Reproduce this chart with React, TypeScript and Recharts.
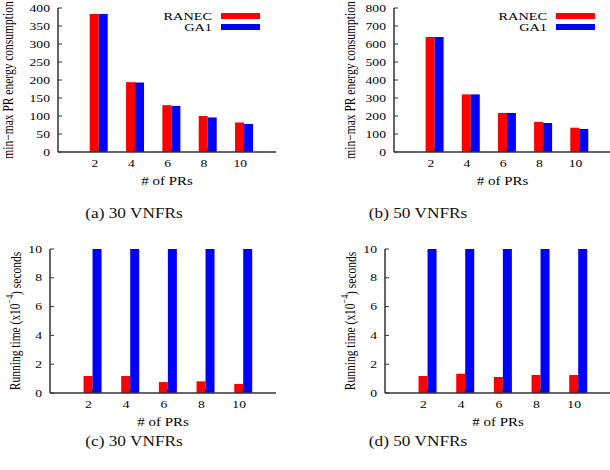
import React from 'react';
import { BarChart, Bar, XAxis, YAxis, Label } from 'recharts';

const prCounts = [2, 4, 6, 8, 10];
const xTicks = [2, 4, 6, 8, 10];
const xDomain = [-0.25, 11.75];
const seriesNames = ['RANEC', 'GA1'];
const seriesColors = ['#ff0000', '#0000ff'];

// (a) / (b) min-max PR energy consumption
const energyRanec30 = [383, 194, 130, 100, 82];
const energyGa130 = [383, 193, 128, 96, 78];
const energyRanec50 = [639, 320, 217, 167, 135];
const energyGa150 = [639, 320, 217, 161, 128];
const energyTicks30 = [0, 50, 100, 150, 200, 250, 300, 350, 400];
const energyTicks50 = [0, 100, 200, 300, 400, 500, 600, 700, 800];

// (c) / (d) running time, x10^-4 s
// GA1 bars run off the top of the 0-10 axis, so only "above 10" is known
const timeRanec30 = [1.18, 1.18, 0.76, 0.81, 0.63];
const timeGa130 = [12, 12, 12, 12, 12];
const timeRanec50 = [1.18, 1.34, 1.11, 1.25, 1.25];
const timeGa150 = [12, 12, 12, 12, 12];
const timeTicks = [0, 2, 4, 6, 8, 10];

const captions = ['(a) 30 VNFRs', '(b) 50 VNFRs', '(c) 30 VNFRs', '(d) 50 VNFRs'];

const FONT = '"Liberation Serif", "DejaVu Serif", serif';
const AXIS = '#333';
const STRETCH = 1.3;

const XTick = (props: any) => {
  const { x, y, payload } = props;
  return (
    <text
      x={-3}
      y={0}
      dy="0.71em"
      textAnchor="middle"
      fontSize={10.5}
      fontFamily={FONT}
      fill="#000"
      transform={`translate(${x},${y}) scale(${STRETCH},1)`}
    >
      {payload.value}
    </text>
  );
};

const YTick = (props: any) => {
  const { x, y, payload } = props;
  return (
    <text
      x={0}
      y={0}
      dy="0.35em"
      textAnchor="end"
      fontSize={10.5}
      fontFamily={FONT}
      fill="#000"
      transform={`translate(${x},${y}) scale(${STRETCH},1)`}
    >
      {payload.value}
    </text>
  );
};

function LegendBox({ textRight, swatchLeft }: { textRight: number; swatchLeft: number }) {
  return (
    <>
      {seriesNames.map((name, i) => {
        const cy = 16 + i * 11;
        return (
          <React.Fragment key={name}>
            <div
              style={{
                position: 'absolute',
                left: textRight - 80,
                width: 80,
                top: cy - 6,
                height: 12,
                lineHeight: '12px',
                fontSize: 11,
                fontFamily: FONT,
                textAlign: 'right',
                transform: `scaleX(${STRETCH})`,
                transformOrigin: 'right center',
              }}
            >
              {name}
            </div>
            <div
              style={{
                position: 'absolute',
                left: swatchLeft,
                top: cy - 3,
                width: 39,
                height: 6,
                background: seriesColors[i],
              }}
            />
          </React.Fragment>
        );
      })}
    </>
  );
}

interface PanelProps {
  left: number;
  top: number;
  width: number;
  margin: { top: number; right: number; left: number; bottom: number };
  ranec: number[];
  ga1: number[];
  yTicks: number[];
  yLabel: React.ReactNode;
  yLabelX: number;
  legend?: { textRight: number; swatchLeft: number };
}

function Panel({ left, top, width, margin, ranec, ga1, yTicks, yLabel, yLabelX, legend }: PanelProps) {
  const data = prCounts.map((pr, i) => ({ pr, ranec: ranec[i], ga1: ga1[i] }));
  const yMax = yTicks[yTicks.length - 1];
  const line = { stroke: AXIS, strokeWidth: 1.5 };

  return (
    <div style={{ position: 'absolute', left, top, width, height: 200 }}>
      <BarChart width={width} height={200} data={data} margin={margin} barGap={0}>
        <XAxis
          dataKey="pr"
          type="number"
          domain={xDomain}
          ticks={xTicks}
          interval={0}
          height={34}
          axisLine={line}
          tickLine={{ stroke: AXIS }}
          tickSize={-4}
          tickMargin={12}
          tick={<XTick />}
        >
          <Label
            content={(p: any) => {
              const vb = p.viewBox;
              return (
                <text
                  x={0}
                  y={0}
                  textAnchor="middle"
                  fontSize={11.5}
                  fontFamily={FONT}
                  fill="#000"
                  transform={`translate(${vb.x + vb.width / 2},${vb.y + vb.height - 1}) scale(${STRETCH},1)`}
                >
                  # of PRs
                </text>
              );
            }}
          />
        </XAxis>
        <XAxis
          xAxisId="top"
          orientation="top"
          type="number"
          domain={xDomain}
          ticks={xTicks}
          interval={0}
          height={0}
          axisLine={line}
          tickLine={{ stroke: AXIS }}
          tickSize={-4}
          tick={false}
        />
        <YAxis
          domain={[0, yMax]}
          ticks={yTicks}
          interval={0}
          allowDataOverflow
          width={50}
          axisLine={line}
          tickLine={{ stroke: AXIS }}
          tickSize={-4}
          tickMargin={12}
          tick={<YTick />}
        >
          <Label
            content={(p: any) => {
              const vb = p.viewBox;
              return (
                <text
                  x={0}
                  y={0}
                  textAnchor="middle"
                  dominantBaseline="central"
                  fontSize={11.5}
                  fontFamily={FONT}
                  fill="#000"
                  transform={`translate(${yLabelX},${vb.y + vb.height / 2}) scale(${STRETCH},1) rotate(-90)`}
                >
                  {yLabel}
                </text>
              );
            }}
          />
        </YAxis>
        <YAxis
          yAxisId="right"
          orientation="right"
          domain={[0, yMax]}
          ticks={yTicks}
          interval={0}
          width={0}
          axisLine={line}
          tickLine={{ stroke: AXIS }}
          tickSize={-4}
          tick={false}
        />
        <Bar dataKey="ranec" name={seriesNames[0]} fill={seriesColors[0]} barSize={9} isAnimationActive={false} />
        <Bar dataKey="ga1" name={seriesNames[1]} fill={seriesColors[1]} barSize={9} isAnimationActive={false} />
      </BarChart>
      {legend && <LegendBox textRight={legend.textRight} swatchLeft={legend.swatchLeft} />}
    </div>
  );
}

function Caption({ text, cx, cy }: { text: string; cx: number; cy: number }) {
  return (
    <div
      style={{
        position: 'absolute',
        left: cx - 100,
        width: 200,
        top: cy - 10,
        height: 20,
        lineHeight: '20px',
        textAlign: 'center',
        fontSize: 15,
        fontFamily: FONT,
        color: '#111',
        transform: 'scaleX(1.15)',
      }}
    >
      {text}
    </div>
  );
}

const energyLabel = 'min\u2212max PR energy consumption';
const timeLabel = (
  <>
    Running time (x10
    <tspan dy={-4} fontSize={8}>
      {'\u22124'}
    </tspan>
    <tspan dy={4}>) seconds</tspan>
  </>
);

export default function App() {
  return (
    <div style={{ position: 'absolute', left: 0, top: 0, width: 610, height: 470, background: '#fff', overflow: 'hidden' }}>
      <Panel
        left={0}
        top={0}
        width={300}
        margin={{ top: 8, right: 24, left: 8, bottom: 14 }}
        ranec={energyRanec30}
        ga1={energyGa130}
        yTicks={energyTicks30}
        yLabel={energyLabel}
        yLabelX={8}
        legend={{ textRight: 212, swatchLeft: 221 }}
      />
      <Panel
        left={300}
        top={0}
        width={311}
        margin={{ top: 8, right: 0, left: 44, bottom: 14 }}
        ranec={energyRanec50}
        ga1={energyGa150}
        yTicks={energyTicks50}
        yLabel={energyLabel}
        yLabelX={50}
        legend={{ textRight: 247, swatchLeft: 256 }}
      />
      <Panel
        left={0}
        top={240}
        width={300}
        margin={{ top: 9, right: 24, left: 0, bottom: 13 }}
        ranec={timeRanec30}
        ga1={timeGa130}
        yTicks={timeTicks}
        yLabel={timeLabel}
        yLabelX={15}
      />
      <Panel
        left={300}
        top={240}
        width={311}
        margin={{ top: 9, right: 0, left: 35, bottom: 13 }}
        ranec={timeRanec50}
        ga1={timeGa150}
        yTicks={timeTicks}
        yLabel={timeLabel}
        yLabelX={50}
      />
      <Caption text={captions[0]} cx={134} cy={213} />
      <Caption text={captions[1]} cx={418} cy={213} />
      <Caption text={captions[2]} cx={134} cy={441} />
      <Caption text={captions[3]} cx={418} cy={441} />
    </div>
  );
}
